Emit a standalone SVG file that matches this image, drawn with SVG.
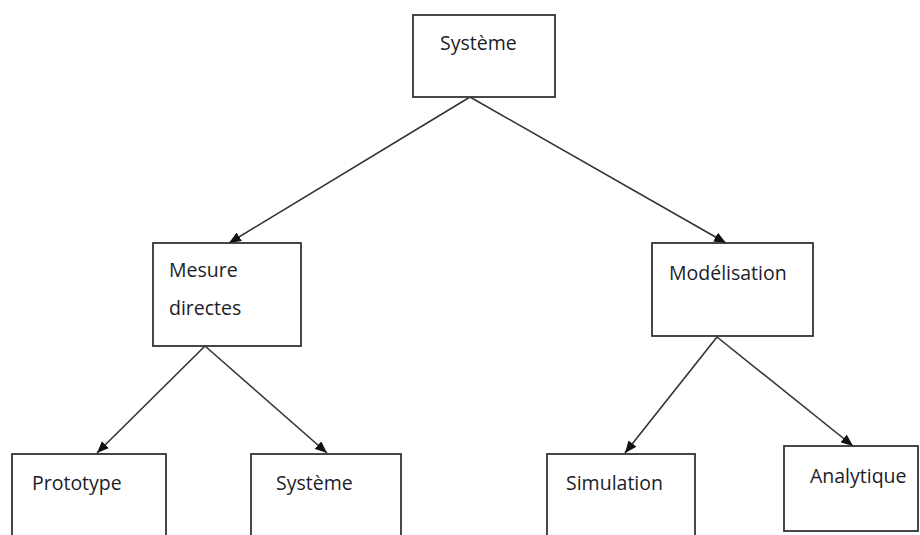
<svg xmlns="http://www.w3.org/2000/svg" width="920" height="535" viewBox="0 0 920 535">
<style>
.box{fill:#fff;stroke:#333;stroke-width:1.8}
.lbl{font-family:"Open Sans","Liberation Sans",sans-serif;font-size:19.5px;fill:#1c1c2a}
.edge{stroke:#333;stroke-width:1.6;fill:none;marker-end:url(#ah)}
</style>
<defs>
<marker id="ah" viewBox="0 0 12 10" refX="12" refY="5" markerWidth="12" markerHeight="10" markerUnits="userSpaceOnUse" orient="auto">
<path d="M0,0 L12,5 L0,10 z" fill="#111"/>
</marker>
</defs>
<rect width="920" height="535" fill="#fff"/>
<g id="edges">
<line class="edge" x1="470" y1="97" x2="229" y2="243"/>
<line class="edge" x1="470" y1="97" x2="726" y2="243"/>
<line class="edge" x1="205" y1="346" x2="97" y2="453"/>
<line class="edge" x1="205" y1="346" x2="327" y2="453"/>
<line class="edge" x1="717" y1="337" x2="625" y2="453"/>
<line class="edge" x1="717" y1="337" x2="853" y2="446"/>
</g>
<g id="n-systeme-top">
<rect class="box" x="413" y="15" width="142" height="82"/>
<text class="lbl" x="440" y="50">Système</text>
</g>
<g id="n-mesure">
<rect class="box" x="153" y="243" width="148" height="103"/>
<text class="lbl" x="169" y="277">Mesure</text>
<text class="lbl" x="169" y="315">directes</text>
</g>
<g id="n-modelisation">
<rect class="box" x="652" y="243" width="161" height="93"/>
<text class="lbl" x="669" y="280">Modélisation</text>
</g>
<g id="n-prototype">
<rect class="box" x="12" y="454" width="154" height="90"/>
<text class="lbl" x="32" y="490">Prototype</text>
</g>
<g id="n-systeme-bottom">
<rect class="box" x="251" y="454" width="150" height="90"/>
<text class="lbl" x="276" y="490">Système</text>
</g>
<g id="n-simulation">
<rect class="box" x="547" y="454" width="148" height="90"/>
<text class="lbl" x="566" y="490">Simulation</text>
</g>
<g id="n-analytique">
<rect class="box" x="784" y="446" width="134" height="85"/>
<text class="lbl" x="810" y="483">Analytique</text>
</g>
</svg>
